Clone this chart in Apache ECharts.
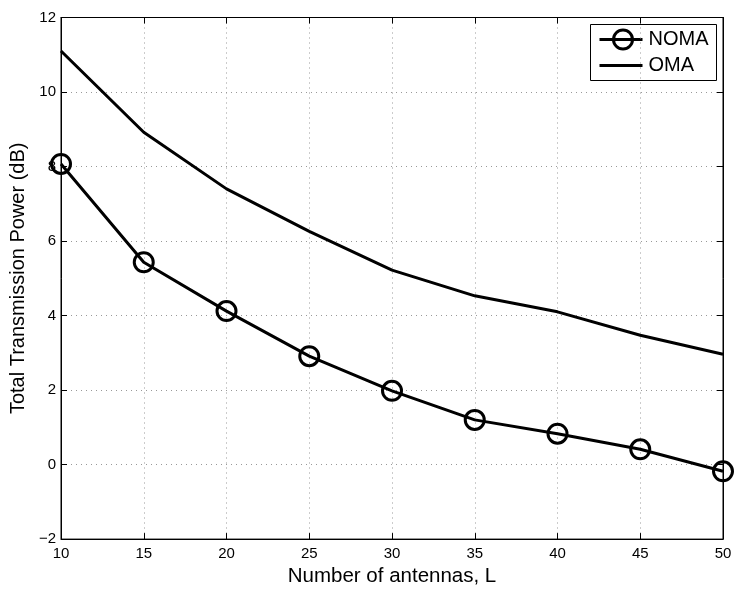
<!DOCTYPE html>
<html><head><meta charset="utf-8">
<script src="https://cdn.jsdelivr.net/npm/echarts@6/dist/echarts.min.js"></script>
<style>html,body{margin:0;padding:0;background:#fff}#c{width:747px;height:592px}</style>
</head><body><div id="c"></div>
<script>
var antennas = [10, 15, 20, 25, 30, 35, 40, 45, 50];
var noma = [8.07, 5.43, 4.12, 2.91, 1.98, 1.20, 0.83, 0.41, -0.18];
var oma = [11.10, 8.92, 7.40, 6.26, 5.22, 4.53, 4.10, 3.47, 2.96];
var seriesNames = ['NOMA', 'OMA'];
var xTitle = 'Number of antennas, L';
var yTitle = 'Total Transmission Power (dB)';

function pairs(xs, ys){ return xs.map(function(x,i){ return [x, ys[i]]; }); }
var font = 'Liberation Sans, Arial, sans-serif';
var chart = echarts.init(document.getElementById('c'));
var gridLine = {show:true, lineStyle:{color:'#999', type:[1,4], width:1}};
var tick = {show:true, inside:true, length:6, lineStyle:{color:'#000'}};
function minus(v){ return String(v).replace('-', '\u2212'); }
chart.setOption({
  animation:false,
  backgroundColor:'#fff',
  grid:{left:57, right:24, top:17.5, bottom:48.5, show:true, borderColor:'#000', borderWidth:1},
  xAxis:[{
    type:'value', min:10, max:50, interval:5,
    name:xTitle, nameLocation:'middle', nameGap:22,
    nameTextStyle:{fontFamily:font, fontSize:20.5, color:'#000'},
    axisLine:{show:true, onZero:false, lineStyle:{color:'#000', width:1}},
    axisTick:tick,
    axisLabel:{fontFamily:font, fontSize:15, color:'#000', margin:7, formatter:minus},
    splitLine:gridLine
  },{
    type:'value', min:10, max:50, interval:5, position:'top',
    axisLine:{show:true, onZero:false, lineStyle:{color:'#000'}},
    axisTick:tick, axisLabel:{show:false}, splitLine:{show:false}
  }],
  yAxis:[{
    type:'value', min:-2, max:12, interval:2,
    name:yTitle, nameLocation:'middle', nameGap:32,
    nameTextStyle:{fontFamily:font, fontSize:20, color:'#000'},
    axisLine:{show:true, onZero:false, lineStyle:{color:'#000', width:1}},
    axisTick:tick,
    axisLabel:{fontFamily:font, fontSize:15, color:'#000', margin:5, formatter:minus},
    splitLine:gridLine
  },{
    type:'value', min:-2, max:12, interval:2, position:'right',
    axisLine:{show:true, onZero:false, lineStyle:{color:'#000'}},
    axisTick:tick, axisLabel:{show:false}, splitLine:{show:false}
  }],
  graphic:[{
    type:'group', left:590, top:24, z:100,
    children:[
      {type:'rect', shape:{x:0, y:0, width:126, height:56}, style:{fill:'#fff', stroke:'#000', lineWidth:1}},
      {type:'line', shape:{x1:9, y1:15, x2:52, y2:15}, style:{stroke:'#000', lineWidth:3}},
      {type:'circle', shape:{cx:32.5, cy:15, r:9.5}, style:{fill:'none', stroke:'#000', lineWidth:3}},
      {type:'text', x:58, y:15, style:{text:seriesNames[0], font:'20px ' + font, fill:'#000', verticalAlign:'middle', align:'left'}},
      {type:'line', shape:{x1:9, y1:41, x2:52, y2:41}, style:{stroke:'#000', lineWidth:3}},
      {type:'text', x:58, y:41, style:{text:seriesNames[1], font:'20px ' + font, fill:'#000', verticalAlign:'middle', align:'left'}}
    ]
  }],
  series:[{
    name:seriesNames[0], type:'line', data:pairs(antennas, noma),
    symbol:'circle', symbolSize:19, showAllSymbol:true,
    lineStyle:{color:'#000', width:3},
    itemStyle:{color:'rgba(0,0,0,0)', borderColor:'#000', borderWidth:3},
    z:3
  },{
    name:seriesNames[1], type:'line', data:pairs(antennas, oma),
    symbol:'none', showSymbol:false,
    lineStyle:{color:'#000', width:3},
    itemStyle:{color:'#000'}
  }]
});
</script></body></html>
